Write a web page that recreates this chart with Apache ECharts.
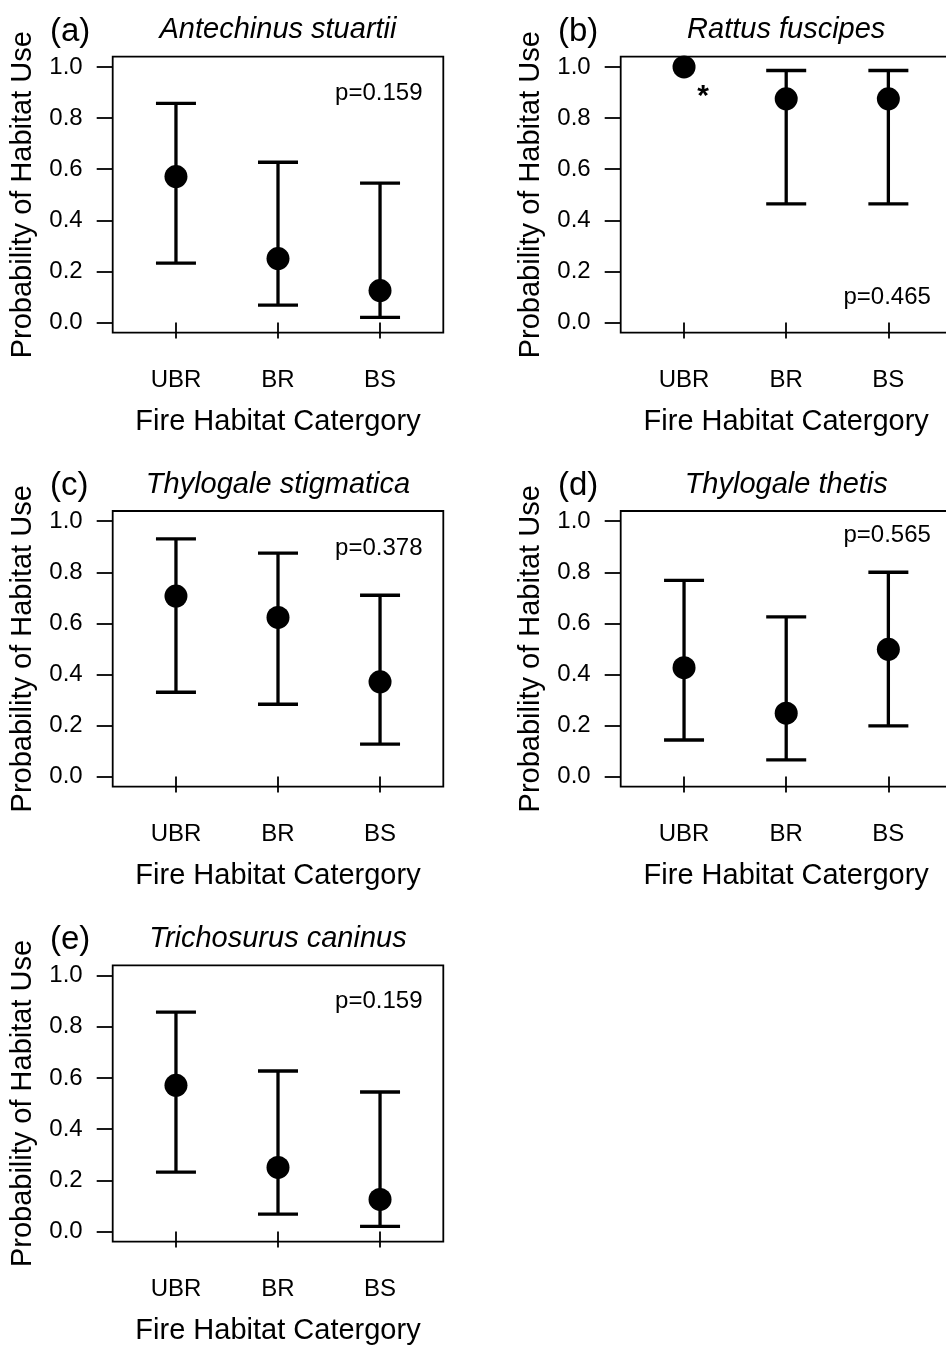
<!DOCTYPE html>
<html>
<head>
<meta charset="utf-8">
<title>Probability of habitat use by fire category</title>
<script src="https://cdn.jsdelivr.net/npm/echarts@6/dist/echarts.min.js"></script>
<style>
  html, body { margin: 0; padding: 0; background: #fff; overflow: hidden; }
  #chart { width: 960px; height: 1347px; }
</style>
</head>
<body>
<div id="chart"></div>
<script>
// data
const categories = ['UBR', 'BR', 'BS']
const yTicks = [0, 0.2, 0.4, 0.6, 0.8, 1.0]
const panelLetters = ['(a)', '(b)', '(c)', '(d)', '(e)']
const speciesNames = ['Antechinus stuartii', 'Rattus fuscipes', 'Thylogale stigmatica', 'Thylogale thetis', 'Trichosurus caninus']
const pValues = ['p=0.159', 'p=0.465', 'p=0.378', 'p=0.565', 'p=0.159']

const estA = [0.571, 0.25, 0.125]
const lowA = [0.232, 0.068, 0.02]
const highA = [0.857, 0.627, 0.545]

const estB = [1.0, 0.875, 0.875]
const lowB = [null, 0.464, 0.464]
const highB = [null, 0.986, 0.986]
const starB = ['*', '', '']

const estC = [0.707, 0.623, 0.371]
const lowC = [0.33, 0.283, 0.127]
const highC = [0.931, 0.875, 0.71]

const estD = [0.426, 0.248, 0.498]
const lowD = [0.143, 0.065, 0.198]
const highD = [0.768, 0.625, 0.8]

const estE = [0.571, 0.25, 0.125]
const lowE = [0.232, 0.068, 0.02]
const highE = [0.857, 0.627, 0.545]

const panels = [
  { est: estA, low: lowA, high: highA, stars: null },
  { est: estB, low: lowB, high: highB, stars: starB },
  { est: estC, low: lowC, high: highC, stars: null },
  { est: estD, low: lowD, high: highD, stars: null },
  { est: estE, low: lowE, high: highE, stars: null },
]

// layout (pixels)
const boxes = [
  { left: 112.7, top: 56.7, width: 330.6, height: 276 },
  { left: 620.7, top: 56.7, width: 331, height: 276 },
  { left: 112.7, top: 511, width: 330.6, height: 275.7 },
  { left: 620.7, top: 511, width: 331, height: 275.7 },
  { left: 112.7, top: 965.3, width: 330.6, height: 276.4 },
]
const pOffsetY = [36.3, 240.8, 37, 24.7, 36.3]
const font = '"Liberation Sans", Arial, Helvetica, sans-serif'
const capHalf = 20

const chart = echarts.init(document.getElementById('chart'))

const grid = []
const xAxis = []
const yAxis = []
const series = []
const graphic = []

panels.forEach((p, i) => {
  const b = boxes[i]
  grid.push({
    left: b.left, top: b.top, width: b.width, height: b.height,
    show: true, borderColor: '#000', borderWidth: 1.8, backgroundColor: 'transparent',
  })
  xAxis.push({
    gridIndex: i,
    type: 'value',
    min: 0.38,
    max: 3.62,
    axisLine: { show: false },
    splitLine: { show: false },
    axisTick: { show: true, inside: false, length: 16, customValues: [1, 2, 3], lineStyle: { color: '#000', width: 1.8 } },
    axisLabel: {
      customValues: [1, 2, 3],
      formatter: (v) => categories[Math.round(v) - 1],
      margin: 36, fontSize: 24, color: '#000', fontFamily: font,
    },
    name: 'Fire Habitat Catergory',
    nameLocation: 'middle',
    nameGap: 75,
    nameTextStyle: { fontSize: 29, color: '#000', fontFamily: font },
  })
  yAxis.push({
    gridIndex: i,
    type: 'value',
    min: -0.04,
    max: 1.04,
    axisLine: { show: false },
    splitLine: { show: false },
    axisTick: { show: true, inside: false, length: 16, customValues: yTicks, lineStyle: { color: '#000', width: 1.8 } },
    axisLabel: {
      customValues: yTicks,
      formatter: (v) => v.toFixed(1),
      margin: 30, fontSize: 24, color: '#000', fontFamily: font,
      padding: [5, 0, 0, 0],
    },
    name: 'Probability of Habitat Use',
    nameLocation: 'middle',
    nameGap: 75,
    nameTextStyle: { fontSize: 29, color: '#000', fontFamily: font },
  })

  // error bars
  const barData = []
  categories.forEach((c, k) => {
    if (p.low[k] != null) barData.push([k + 1, p.low[k], p.high[k]])
  })
  series.push({
    type: 'custom',
    xAxisIndex: i,
    yAxisIndex: i,
    silent: true,
    data: barData,
    renderItem: (params, api) => {
      const x = api.value(0)
      const top = api.coord([x, api.value(2)])
      const bot = api.coord([x, api.value(1)])
      const style = { stroke: '#000', lineWidth: 3.3, fill: null }
      return {
        type: 'group',
        children: [
          { type: 'line', shape: { x1: top[0], y1: top[1], x2: bot[0], y2: bot[1] }, style },
          { type: 'line', shape: { x1: top[0] - capHalf, y1: top[1], x2: top[0] + capHalf, y2: top[1] }, style },
          { type: 'line', shape: { x1: bot[0] - capHalf, y1: bot[1], x2: bot[0] + capHalf, y2: bot[1] }, style },
        ],
      }
    },
    z: 2,
  })

  // point estimates
  series.push({
    type: 'scatter',
    xAxisIndex: i,
    yAxisIndex: i,
    symbol: 'circle',
    symbolSize: 23,
    itemStyle: { color: '#000', opacity: 1 },
    silent: true,
    data: p.est.map((v, k) => {
      const item = { value: [k + 1, v] }
      if (p.stars && p.stars[k]) {
        item.label = {
          show: true, formatter: p.stars[k], position: 'inside', offset: [19, 30],
          fontSize: 30, fontWeight: 'bold', color: '#000', opacity: 1, fontFamily: font,
        }
      }
      return item
    }),
    z: 3,
  })

  // panel letter, species title, p value
  const cy = b.top - 26.5
  graphic.push({
    type: 'text', x: b.left - 62.7, y: cy + 1.5,
    style: { text: panelLetters[i], fontSize: 33, fontFamily: font, fill: '#000',
      align: 'left', textAlign: 'left', verticalAlign: 'middle', textVerticalAlign: 'middle' },
  })
  graphic.push({
    type: 'text', x: b.left + b.width / 2, y: cy,
    style: { text: speciesNames[i], fontSize: 29, fontStyle: 'italic', fontFamily: font, fill: '#000',
      align: 'center', textAlign: 'center', verticalAlign: 'middle', textVerticalAlign: 'middle' },
  })
  graphic.push({
    type: 'text', x: b.left + b.width - 20.8, y: b.top + pOffsetY[i],
    style: { text: pValues[i], fontSize: 24, fontFamily: font, fill: '#000',
      align: 'right', textAlign: 'right', verticalAlign: 'middle', textVerticalAlign: 'middle' },
  })
})

chart.setOption({
  animation: false,
  backgroundColor: '#fff',
  grid,
  xAxis,
  yAxis,
  series,
  graphic,
})
</script>
</body>
</html>
